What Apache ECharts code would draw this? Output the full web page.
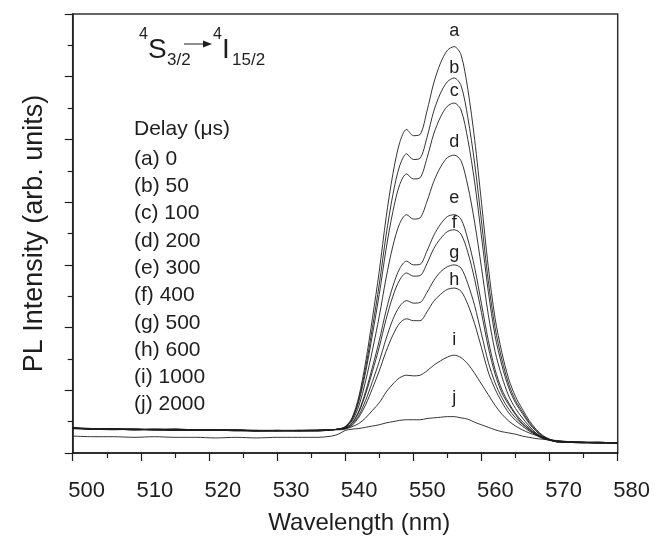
<!DOCTYPE html>
<html><head><meta charset="utf-8">
<script src="https://cdn.jsdelivr.net/npm/echarts@6/dist/echarts.min.js"></script>
<style>html,body{margin:0;padding:0;background:#fff}#c{width:655px;height:544px}</style>
</head><body><div id="c"></div>
<script>
// ---- data ----
const wavelength = [500,503,506,509,512,515,518,521,524,527,530,533,536,538,
  539,540,541,542,543,544,545,546,547,548,549,550,551,552,553,554,555,556,557,558,559,560,
  561,562,563,564,565,566,567,568,569,570,571,573,575,577,580];

const curveA = [.40,.38,.39,.37,.38,.37,.36,.37,.36,.35,.36,.36,.35,.37,
  .38,.42,.56,.90,1.45,2.15,2.90,3.75,4.45,4.95,5.16,5.06,5.08,5.45,5.90,6.22,6.42,6.48,6.35,5.80,5.00,4.00,2.97,2.15,1.60,1.18,.90,.70,.52,.38,.28,.22,.19,
  .18,.17,.17,.16];
const curveB = [.39,.39,.38,.38,.37,.38,.37,.36,.37,.36,.35,.36,.36,.37,
  .38,.42,.54,.86,1.36,2.00,2.69,3.47,4.12,4.58,4.77,4.68,4.70,5.03,5.45,5.74,5.92,5.98,5.86,5.35,4.62,3.70,2.75,2.00,1.49,1.10,.84,.66,.49,.36,.27,.22,.19,
  .17,.17,.16,.16];
const curveC = [.40,.39,.38,.37,.38,.38,.36,.37,.36,.36,.36,.35,.36,.37,
  .38,.41,.53,.82,1.29,1.89,2.53,3.25,3.85,4.28,4.45,4.37,4.39,4.70,5.09,5.36,5.53,5.58,5.47,5.00,4.32,3.46,2.58,1.87,1.40,1.04,.80,.63,.47,.35,.26,.21,.19,
  .18,.17,.16,.16];
const curveD = [.41,.38,.38,.38,.37,.37,.37,.36,.37,.35,.36,.36,.36,.37,
  .38,.41,.51,.75,1.15,1.64,2.18,2.79,3.30,3.66,3.80,3.73,3.75,4.01,4.33,4.56,4.71,4.75,4.66,4.26,3.68,2.96,2.21,1.62,1.22,.91,.71,.56,.43,.32,.25,.21,.18,
  .17,.17,.17,.16];
const curveE = [.39,.38,.39,.38,.37,.36,.37,.37,.35,.36,.35,.36,.37,.37,
  .38,.40,.48,.67,.98,1.37,1.79,2.27,2.66,2.94,3.06,3.00,3.01,3.22,3.47,3.65,3.77,3.80,3.73,3.41,2.96,2.38,1.80,1.33,1.01,.80,.63,.50,.40,.31,.25,.21,.18,
  .17,.16,.17,.16];
const curveF = [.40,.39,.38,.37,.37,.38,.37,.36,.36,.36,.36,.35,.36,.37,
  .38,.40,.47,.65,.94,1.30,1.69,2.13,2.50,2.76,2.87,2.82,2.83,3.02,3.26,3.42,3.53,3.56,3.49,3.20,2.77,2.24,1.69,1.26,.96,.77,.61,.47,.38,.30,.24,.21,.18,
  .18,.17,.16,.16];
const curveG = [.39,.38,.37,.38,.38,.37,.36,.36,.37,.35,.35,.36,.36,.37,
  .38,.39,.45,.60,.84,1.14,1.46,1.82,2.13,2.34,2.43,2.39,2.40,2.56,2.75,2.89,2.97,3.00,2.95,2.70,2.35,1.90,1.45,1.12,.88,.70,.56,.46,.37,.30,.24,.21,.18,
  .17,.17,.16,.16];
const curveH = [.40,.38,.38,.37,.37,.37,.37,.36,.36,.36,.36,.36,.35,.37,
  .38,.39,.44,.57,.77,1.03,1.31,1.62,1.88,2.07,2.14,2.11,2.11,2.25,2.42,2.53,2.61,2.63,2.58,2.37,2.06,1.68,1.29,1.02,.81,.64,.52,.43,.35,.29,.23,.20,.18,
  .17,.16,.16,.16];
const curveI = [.39,.39,.38,.38,.37,.36,.36,.37,.36,.35,.36,.35,.36,.37,
  .37,.38,.42,.47,.56,.68,.80,.97,1.10,1.20,1.24,1.23,1.24,1.31,1.40,1.47,1.53,1.56,1.52,1.42,1.27,1.10,.93,.76,.62,.51,.43,.37,.32,.28,.24,.21,.19,
  .18,.17,.17,.16];
const curveJ = [.27,.26,.26,.25,.26,.25,.25,.24,.25,.24,.25,.25,.25,.27,
  .30,.36,.38,.39,.41,.43,.45,.48,.50,.52,.53,.53,.53,.55,.56,.57,.58,.58,.56,.54,.49,.45,.41,.37,.34,.32,.30,.27,.25,.23,.22,.21,.20,
  .18,.17,.17,.16];

const curveLetters = ['a','b','c','d','e','f','g','h','i','j'];
const delayValues = ['0','50','100','200','300','400','500','600','1000','2000'];
const labelWavelength = 556;
const xTickValues = [500,510,520,530,540,550,560,570,580];

// ---- rendering ----
const curves = [curveA,curveB,curveC,curveD,curveE,curveF,curveG,curveH,curveI,curveJ];
const FONT = '"Liberation Sans", Arial, Helvetica, sans-serif';
const INK = '#1e1e1e';
const labelLift = [16,10,12,13,17,7,12,8,15,19];
const peakIdx = wavelength.indexOf(labelWavelength);

const series = curves.map((vals, k) => ({
  type: 'line',
  name: curveLetters[k],
  data: wavelength.map((w, i) => [w, vals[i]]),
  showSymbol: false,
  smooth: 0.3,
  lineStyle: { color: INK, width: 0.9 },
  silent: true,
  markPoint: {
    symbol: 'circle', symbolSize: 1,
    itemStyle: { color: 'rgba(0,0,0,0)' },
    silent: true,
    label: { show: true, position: 'inside', formatter: curveLetters[k], color: INK,
             fontFamily: FONT, fontSize: 18, offset: [0, -labelLift[k]] },
    data: [{ coord: [wavelength[peakIdx], vals[peakIdx]] }]
  }
}));

const graphics = [];
// transition title
graphics.push({type:'text', style:{text:'4', x:139, y:35, font:'16px '+FONT, fill:INK, textVerticalAlign:'middle'}});
graphics.push({type:'text', style:{text:'S', x:148, y:50, font:'28px '+FONT, fill:INK, textVerticalAlign:'middle'}});
graphics.push({type:'text', style:{text:'3/2', x:167, y:60, font:'17px '+FONT, fill:INK, textVerticalAlign:'middle'}});
graphics.push({type:'line', shape:{x1:184, y1:44, x2:205, y2:44}, style:{stroke:INK, lineWidth:1}});
graphics.push({type:'polygon', shape:{points:[[203,40.5],[212,44],[203,47.5]]}, style:{fill:INK}});
graphics.push({type:'text', style:{text:'4', x:213, y:35, font:'16px '+FONT, fill:INK, textVerticalAlign:'middle'}});
graphics.push({type:'text', style:{text:'I', x:222, y:50, font:'28px '+FONT, fill:INK, textVerticalAlign:'middle'}});
graphics.push({type:'text', style:{text:'15/2', x:232, y:60, font:'17px '+FONT, fill:INK, textVerticalAlign:'middle'}});
// delay list
graphics.push({type:'text', style:{text:'Delay (\u03bcs)', x:134, y:129, font:'21px '+FONT, fill:INK, textVerticalAlign:'middle'}});
delayValues.forEach((d, k) => {
  graphics.push({type:'text', style:{text:'(' + curveLetters[k] + ') ' + d, x:134, y:159 + k*27.3,
    font:'21px '+FONT, fill:INK, textVerticalAlign:'middle'}});
});

const chart = echarts.init(document.getElementById('c'), null, {renderer:'canvas'});
chart.setOption({
  animation: false,
  backgroundColor: '#fff',
  grid: { left: 72.7, right: 37.3, top: 14, bottom: 91, show: true, borderColor: '#333', borderWidth: 1.5, backgroundColor: 'transparent' },
  xAxis: {
    type: 'value', min: xTickValues[0], max: xTickValues[xTickValues.length-1], interval: xTickValues[1]-xTickValues[0],
    name: 'Wavelength (nm)', nameLocation: 'middle', nameGap: 58,
    nameTextStyle: { fontFamily: FONT, fontSize: 24, color: INK, padding: [0,0,0,28] },
    axisLine: { show: true, onZero: false, lineStyle: { color: INK, width: 1.5 } },
    axisTick: { show: true, inside: false, length: 8, lineStyle: { color: INK, width: 1.2 } },
    minorTick: { show: true, splitNumber: 2, length: 5, lineStyle: { color: INK, width: 1.2 } },
    axisLabel: { show: true, fontFamily: FONT, fontSize: 22, color: INK, margin: 27, padding: [0,0,0,28] },
    splitLine: { show: false }
  },
  yAxis: {
    type: 'value', min: 0, max: 7, interval: 1,
    name: 'PL Intensity (arb. units)', nameLocation: 'middle', nameGap: 25,
    nameTextStyle: { fontFamily: FONT, fontSize: 27, color: INK },
    axisLine: { show: true, onZero: false, lineStyle: { color: INK, width: 1.5 } },
    axisTick: { show: true, inside: false, length: 8, lineStyle: { color: INK, width: 1.2 } },
    minorTick: { show: true, splitNumber: 2, length: 5, lineStyle: { color: INK, width: 1.2 } },
    axisLabel: { show: false },
    splitLine: { show: false }
  },
  series: series,
  graphic: graphics
});
</script></body></html>
